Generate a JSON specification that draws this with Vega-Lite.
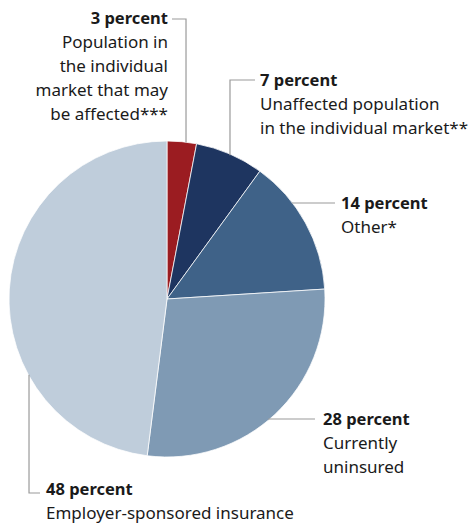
{
  "$schema": "https://vega.github.io/schema/vega-lite/v6.json",
  "width": 475,
  "height": 525,
  "autosize": {"type": "fit", "contains": "padding"},
  "padding": 0,
  "background": "white",
  "config": {"view": {"stroke": null}},
  "datasets": {
    "slices": [
      {"category": "Population in the individual market that may be affected", "percent": 3, "order": 1},
      {"category": "Unaffected population in the individual market", "percent": 7, "order": 2},
      {"category": "Other", "percent": 14, "order": 3},
      {"category": "Currently uninsured", "percent": 28, "order": 4},
      {"category": "Employer-sponsored insurance", "percent": 48, "order": 5}
    ],
    "leaders": [
      {"line": "3", "seq": 0, "lx": 0.0316, "ly": 1.7722},
      {"line": "3", "seq": 1, "lx": 0.1203, "ly": 1.7722},
      {"line": "3", "seq": 2, "lx": 0.1203, "ly": 0.99},
      {"line": "7", "seq": 0, "lx": 0.557, "ly": 1.3861},
      {"line": "7", "seq": 1, "lx": 0.3987, "ly": 1.3861},
      {"line": "7", "seq": 2, "lx": 0.3987, "ly": 0.91},
      {"line": "14", "seq": 0, "lx": 0.79, "ly": 0.6076},
      {"line": "14", "seq": 1, "lx": 1.0633, "ly": 0.6076},
      {"line": "28", "seq": 0, "lx": 0.64, "ly": -0.7595},
      {"line": "28", "seq": 1, "lx": 0.9367, "ly": -0.7595},
      {"line": "48", "seq": 0, "lx": -0.8734, "ly": -0.48},
      {"line": "48", "seq": 1, "lx": -0.8734, "ly": -1.2278},
      {"line": "48", "seq": 2, "lx": -0.8038, "ly": -1.2278}
    ],
    "labels": [
      {"title": "3 percent", "body": "Population in\nthe individual\nmarket that may\nbe affected***", "lx": 0.0063, "ly": 1.7405},
      {"title": "7 percent", "body": "Unaffected population\nin the individual market**", "lx": 0.5886, "ly": 1.3481},
      {"title": "14 percent", "body": "Other*", "lx": 1.1013, "ly": 0.5696},
      {"title": "28 percent", "body": "Currently\nuninsured", "lx": 0.9873, "ly": -0.7975},
      {"title": "48 percent", "body": "Employer-sponsored insurance", "lx": -0.7658, "ly": -1.2405}
    ]
  },
  "layer": [
    {
      "data": {"name": "slices"},
      "mark": {"type": "arc", "outerRadius": 158, "stroke": "white", "strokeWidth": 0.75},
      "encoding": {
        "x": {"datum": 0, "type": "quantitative", "axis": null, "scale": {"domain": [-1.057, 1.9494], "nice": false, "zero": false}},
        "y": {"datum": 0, "type": "quantitative", "axis": null, "scale": {"domain": [-1.4304, 1.8924], "nice": false, "zero": false}},
        "theta": {"field": "percent", "type": "quantitative", "stack": true},
        "order": {"field": "order", "type": "quantitative"},
        "color": {
          "field": "category", "type": "nominal", "legend": null,
          "scale": {
            "domain": ["Population in the individual market that may be affected", "Unaffected population in the individual market", "Other", "Currently uninsured", "Employer-sponsored insurance"],
            "range": ["#9b1c21", "#1e3560", "#3f6288", "#7f9ab4", "#bfcddb"]
          }
        }
      }
    },
    {
      "data": {"name": "leaders"},
      "mark": {"type": "line", "color": "#9a9a9a", "strokeWidth": 1.2},
      "encoding": {
        "x": {"field": "lx", "type": "quantitative", "axis": null, "scale": {"domain": [-1.057, 1.9494], "nice": false, "zero": false}},
        "y": {"field": "ly", "type": "quantitative", "axis": null, "scale": {"domain": [-1.4304, 1.8924], "nice": false, "zero": false}},
        "detail": {"field": "line", "type": "nominal"},
        "order": {"field": "seq", "type": "quantitative"}
      }
    },
    {
      "data": {"name": "labels"},
      "transform": [{"filter": "datum.title === '3 percent'"}],
      "layer": [
        {
          "mark": {"type": "text", "align": "right", "baseline": "alphabetic", "font": "Noto Sans", "fontSize": 16.5, "fontWeight": "bold", "color": "#1a1a1a"},
          "encoding": {"text": {"field": "title"}}
        },
        {
          "mark": {"type": "text", "align": "right", "baseline": "alphabetic", "font": "Noto Sans", "fontSize": 17, "color": "#1a1a1a", "lineBreak": "\n", "lineHeight": 24, "dy": 24},
          "encoding": {"text": {"field": "body"}}
        }
      ],
      "encoding": {
        "x": {"field": "lx", "type": "quantitative", "axis": null, "scale": {"domain": [-1.057, 1.9494], "nice": false, "zero": false}},
        "y": {"field": "ly", "type": "quantitative", "axis": null, "scale": {"domain": [-1.4304, 1.8924], "nice": false, "zero": false}}
      }
    },
    {
      "data": {"name": "labels"},
      "transform": [{"filter": "datum.title !== '3 percent'"}],
      "layer": [
        {
          "mark": {"type": "text", "align": "left", "baseline": "alphabetic", "font": "Noto Sans", "fontSize": 16.5, "fontWeight": "bold", "color": "#1a1a1a"},
          "encoding": {"text": {"field": "title"}}
        },
        {
          "mark": {"type": "text", "align": "left", "baseline": "alphabetic", "font": "Noto Sans", "fontSize": 17, "color": "#1a1a1a", "lineBreak": "\n", "lineHeight": 24, "dy": 24},
          "encoding": {"text": {"field": "body"}}
        }
      ],
      "encoding": {
        "x": {"field": "lx", "type": "quantitative", "axis": null, "scale": {"domain": [-1.057, 1.9494], "nice": false, "zero": false}},
        "y": {"field": "ly", "type": "quantitative", "axis": null, "scale": {"domain": [-1.4304, 1.8924], "nice": false, "zero": false}}
      }
    }
  ]
}
